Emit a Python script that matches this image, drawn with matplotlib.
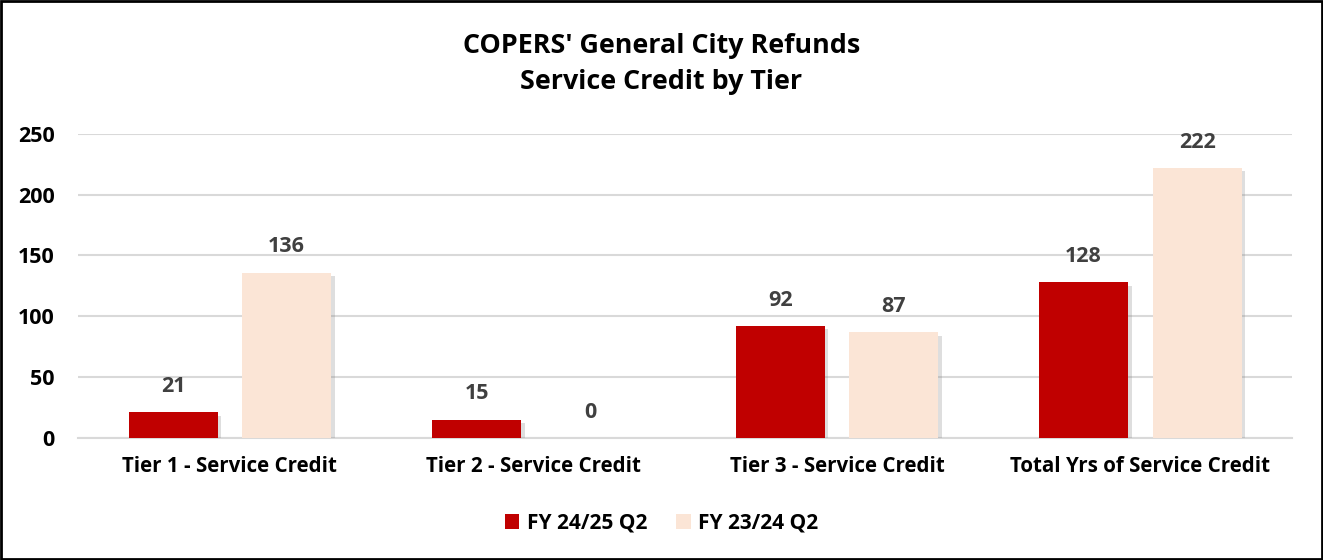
import matplotlib
matplotlib.use("Agg")
import matplotlib.pyplot as plt
import matplotlib.patheffects as pe
from matplotlib.patches import Patch
import numpy as np

categories = ["Tier 1 - Service Credit", "Tier 2 - Service Credit",
              "Tier 3 - Service Credit", "Total Yrs of Service Credit"]
series_names = ["FY 24/25 Q2", "FY 23/24 Q2"]
fy2425 = [21, 15, 92, 128]
fy2324 = [136, 0, 87, 222]
colors = ["#C00000", "#FBE5D6"]

plt.rcParams['font.family'] = ['Open Sans', 'DejaVu Sans']
plt.rcParams['font.weight'] = 'bold'

fig = plt.figure(figsize=(13.23, 5.6), dpi=100)
ax = fig.add_axes([0.059, 0.218, 0.9177, 0.543])

x = np.arange(len(categories))
w = 0.293
off = 0.187
shadow = [pe.SimplePatchShadow(offset=(2.5, -2.5), alpha=0.25, shadow_rgbFace="#7f7f7f"), pe.Normal()]
for vals, sign, col, name in [(fy2425, -1, colors[0], series_names[0]), (fy2324, 1, colors[1], series_names[1])]:
    bars = ax.bar(x + sign * off, vals, width=w, color=col, label=name, zorder=3)
    for b in bars:
        b.set_path_effects(shadow)
    for xi, v in zip(x + sign * off, vals):
        ax.annotate(f"{v}", (xi, v), xytext=(0, 11), textcoords="offset points",
                    ha="center", va="bottom", fontsize=15.5, fontweight="bold", color="#404040")

ax.set_xlim(-0.5, 3.5)
ax.set_ylim(0, 250)
ax.set_yticks([0, 50, 100, 150, 200, 250])
ax.yaxis.grid(True, color="#D9D9D9", linewidth=1.5, zorder=0)
ax.set_axisbelow(True)
for s in ["top", "right", "left"]:
    ax.spines[s].set_visible(False)
ax.spines["bottom"].set_color("#D9D9D9")
ax.spines["bottom"].set_linewidth(1.5)
ax.tick_params(axis="both", length=0)
ax.tick_params(axis="y", pad=17, labelsize=15.5)
ax.tick_params(axis="x", pad=13, labelsize=14.8)
ax.set_xticks(x)
ax.set_xticklabels(categories, fontweight="bold")
for t in ax.get_yticklabels():
    t.set_fontweight("bold")

fig.text(0.5, 0.918, "COPERS' General City Refunds", ha="center", va="center", fontsize=19.4, fontweight="bold")
fig.text(0.5, 0.853, "Service Credit by Tier", ha="center", va="center", fontsize=19.4, fontweight="bold")

handles = [Patch(facecolor=c, edgecolor="none", label=n) for c, n in zip(colors, series_names)]
leg = fig.legend(handles=handles, loc="center", bbox_to_anchor=(0.5, 0.066), ncol=2, frameon=False,
                 fontsize=15, handlelength=0.7, handleheight=0.7, columnspacing=1.4, handletextpad=0.35)
for t in leg.get_texts():
    t.set_fontweight("bold")

fig.patches.append(plt.Rectangle((0.001, 0.002), 0.998, 0.996, transform=fig.transFigure,
                                 fill=False, edgecolor="black", linewidth=2))
fig.savefig("out.png", dpi=100)
